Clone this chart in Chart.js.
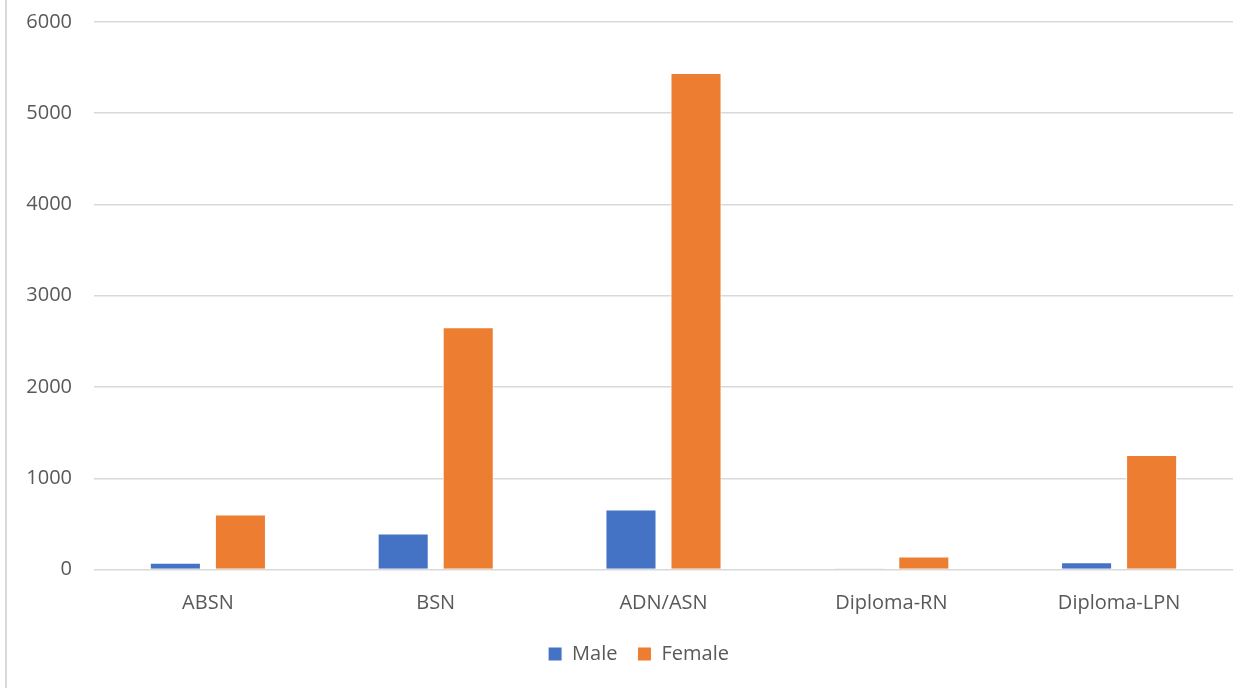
<!DOCTYPE html>
<html>
<head>
<meta charset="utf-8">
<script src="https://cdn.jsdelivr.net/npm/chart.js@4/dist/chart.umd.min.js"></script>
<style>
  html, body { margin: 0; padding: 0; background: #fff; }
  #wrap { position: relative; width: 1243px; height: 688px; }
  #wrap::before { content: ''; position: absolute; left: 5px; top: 0; bottom: 0; border-left: 2px solid #d9d9d9; }
</style>
</head>
<body>
<div id="wrap"><canvas id="chart" width="1243" height="688"></canvas></div>
<script>
// Nursing program graduates by gender
const categories = ['ABSN', 'BSN', 'ADN/ASN', 'Diploma-RN', 'Diploma-LPN'];
const maleValues = [75, 395, 658, 5, 80];
const femaleValues = [602, 2655, 5440, 143, 1255];
const yTicks = [0, 1000, 2000, 3000, 4000, 5000, 6000];

const textColor = '#595959';
const fontFamily = '"Open Sans", "Noto Sans", sans-serif';

// nudge the legend a little right, like the original
const legendShift = {
  id: 'legendShift',
  afterLayout(chart) {
    chart.legend.left += 22;
    chart.legend.right += 22;
  }
};

new Chart(document.getElementById('chart'), {
  type: 'bar',
  data: {
    labels: categories,
    datasets: [
      {
        label: 'Male',
        data: maleValues,
        backgroundColor: '#4472C4',
        borderColor: '#ffffff',
        borderWidth: 1,
        categoryPercentage: 0.571,
        barPercentage: 0.785
      },
      {
        label: 'Female',
        data: femaleValues,
        backgroundColor: '#ED7D31',
        borderColor: '#ffffff',
        borderWidth: 1,
        categoryPercentage: 0.571,
        barPercentage: 0.785
      }
    ]
  },
  plugins: [legendShift],
  options: {
    responsive: false,
    animation: false,
    layout: { padding: { top: 0, right: 10, left: 0, bottom: 14 } },
    plugins: {
      legend: {
        position: 'bottom',
        labels: {
          boxWidth: 14,
          boxHeight: 14,
          padding: 20,
          color: textColor,
          font: { family: fontFamily, size: 20 }
        }
      },
      tooltip: { enabled: false }
    },
    scales: {
      y: {
        min: 0,
        max: 6000,
        afterBuildTicks: function(scale) {
          scale.ticks = yTicks.map(v => ({ value: v }));
        },
        afterFit: function(scale) {
          scale.width = 94;
          scale.paddingTop = 22;
          scale.paddingBottom = 0;
        },
        grid: { color: '#d9d9d9', lineWidth: 1.5, drawTicks: false },
        border: { display: false },
        ticks: {
          padding: 22,
          color: textColor,
          font: { family: fontFamily, size: 20 },
          callback: v => String(v)
        }
      },
      x: {
        grid: { display: false },
        border: { display: false },
        afterFit: function(scale) { scale.height = 54.5; },
        ticks: {
          padding: 14,
          color: textColor,
          font: { family: fontFamily, size: 20 }
        }
      }
    }
  }
});
</script>
</body>
</html>
